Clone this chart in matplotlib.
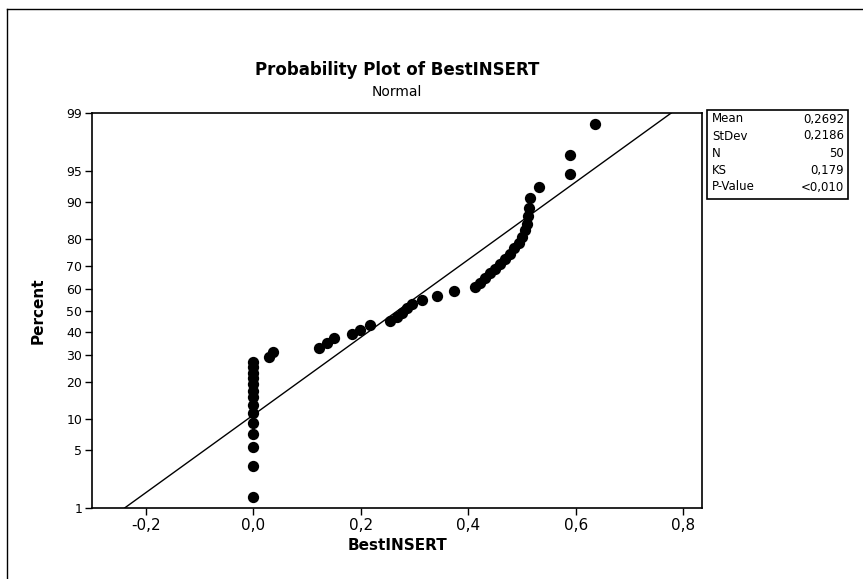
from statistics import NormalDist
import numpy as np
import matplotlib
matplotlib.use("Agg")
import matplotlib.pyplot as plt
from matplotlib.patches import Rectangle
from matplotlib.lines import Line2D

# sorted BestINSERT observations (n = 50)
best_insert = [
    0.0, 0.0, 0.0, 0.0, 0.0, 0.0, 0.0, 0.0, 0.0, 0.0, 0.0, 0.0, 0.0, 0.0,
    0.029, 0.037,
    0.122, 0.137, 0.151,
    0.184, 0.199, 0.217,
    0.255, 0.267, 0.277, 0.286, 0.295,
    0.314, 0.342, 0.373,
    0.413, 0.422, 0.432, 0.441, 0.450, 0.460, 0.469, 0.478, 0.486,
    0.494, 0.500, 0.505, 0.509, 0.512, 0.514, 0.515, 0.531,
    0.589, 0.589, 0.636,
]
mean, stdev = 0.2692, 0.2186
stats_labels = ["Mean", "StDev", "N", "KS", "P-Value"]
stats_values = ["0,2692", "0,2186", "50", "0,179", "<0,010"]

pct_ticks = [1, 5, 10, 20, 30, 40, 50, 60, 70, 80, 90, 95, 99]
x_ticks = [-0.2, 0.0, 0.2, 0.4, 0.6, 0.8]

nd = NormalDist()
n = len(best_insert)
# median rank plotting positions, mapped to normal scores
ranks = np.arange(1, n + 1)
z_pts = [nd.inv_cdf((i - 0.3) / (n + 0.4)) for i in ranks]

W, H = 863, 579
fig = plt.figure(figsize=(W / 100, H / 100), dpi=100)
ax = fig.add_axes([92 / W, 1 - 508 / H, 610 / W, 395 / H])

z_lo, z_hi = nd.inv_cdf(0.01), nd.inv_cdf(0.99)
z_line = np.linspace(z_lo, z_hi, 50)
ax.plot(mean + stdev * z_line, z_line, color="black", lw=1.0)
ax.scatter(best_insert, z_pts, s=66, color="black", zorder=3, linewidths=0)

ax.set_xlim(-0.3, 0.835)
ax.set_ylim(z_lo, z_hi)
ax.set_xticks(x_ticks)
ax.set_xticklabels([f"{v:.1f}".replace(".", ",") for v in x_ticks], fontsize=11)
ax.set_yticks([nd.inv_cdf(p / 100) for p in pct_ticks])
ax.set_yticklabels([str(p) for p in pct_ticks], fontsize=9)
ax.tick_params(direction="out", length=5, width=1, color="black", pad=2)
for sp in ax.spines.values():
    sp.set_linewidth(1.2)

ax.set_xlabel("BestINSERT", fontsize=11, fontweight="bold", labelpad=4)
ax.set_ylabel("Percent", fontsize=11, fontweight="bold", labelpad=15)

fig.text(397 / W, 1 - 70 / H, "Probability Plot of BestINSERT",
         ha="center", va="center", fontsize=12, fontweight="bold")
fig.text(397 / W, 1 - 92 / H, "Normal", ha="center", va="center", fontsize=10)

# summary statistics box
fig.patches.append(Rectangle((707 / W, 1 - 199 / H), 141 / W, 89 / H,
                             transform=fig.transFigure, fill=False,
                             edgecolor="black", lw=1.2))
for k, (lab, val) in enumerate(zip(stats_labels, stats_values)):
    yy = 1 - (119 + 17 * k) / H
    fig.text(712 / W, yy, lab, ha="left", va="center", fontsize=8.5)
    fig.text(844 / W, yy, val, ha="right", va="center", fontsize=8.5)

# page border on left and top
fig.add_artist(Line2D([7 / W, 7 / W], [0, 1 - 9 / H], transform=fig.transFigure,
                      color="black", lw=1))
fig.add_artist(Line2D([7 / W, 1], [1 - 9 / H, 1 - 9 / H], transform=fig.transFigure,
                      color="black", lw=1))

fig.savefig("out.png", dpi=100)
